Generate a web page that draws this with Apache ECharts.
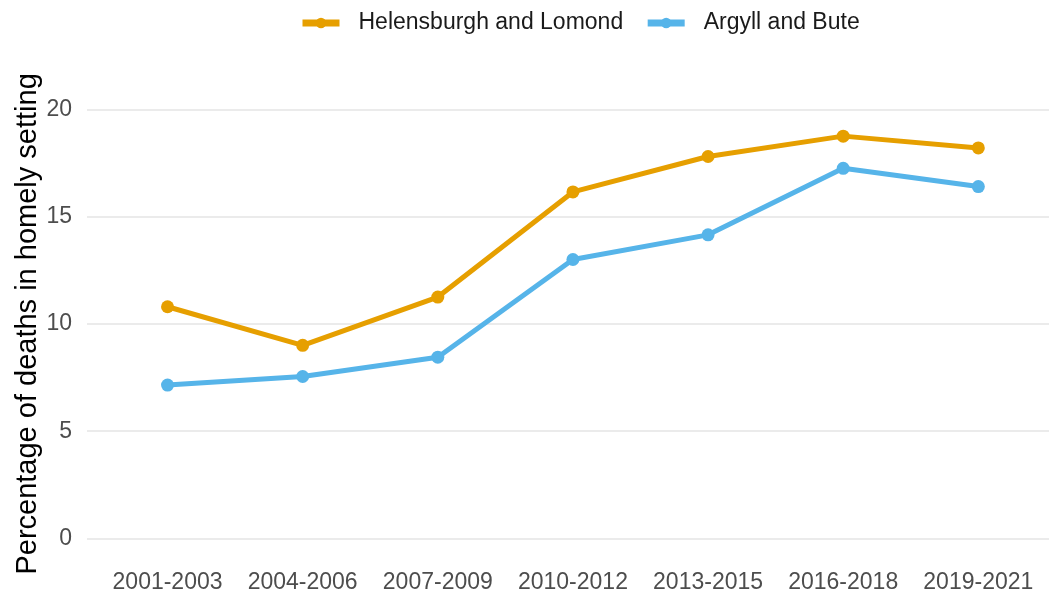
<!DOCTYPE html>
<html>
<head>
<meta charset="utf-8">
<script src="https://cdn.jsdelivr.net/npm/echarts@6/dist/echarts.min.js"></script>
<style>
  html, body { margin: 0; padding: 0; background: #ffffff; }
  #chart { width: 1049px; height: 598px; }
</style>
</head>
<body>
<div id="chart"></div>
<script>
// Three-year periods on the horizontal axis
const periods = ['2001-2003', '2004-2006', '2007-2009', '2010-2012', '2013-2015', '2016-2018', '2019-2021'];
// Percentage of deaths occurring in a homely setting
const helensburgh = [10.8, 9.0, 11.25, 16.15, 17.8, 18.75, 18.2];
const argyll = [7.15, 7.55, 8.45, 13.0, 14.15, 17.25, 16.4];
const yTicks = [0, 5, 10, 15, 20];

const seriesNames = ['Helensburgh and Lomond', 'Argyll and Bute'];
const seriesColors = ['#E69F00', '#56B4E9'];

const font = 'Liberation Sans, Arial, sans-serif';

function toPairs(values) {
  return values.map((v, i) => [i, v]);
}

function makeSeries(idx, values) {
  return {
    name: seriesNames[idx],
    type: 'line',
    data: toPairs(values),
    color: seriesColors[idx],
    lineStyle: { width: 5, color: seriesColors[idx] },
    symbol: 'circle',
    symbolSize: 13,
    itemStyle: { color: seriesColors[idx] },
    clip: false
  };
}

const chart = echarts.init(document.getElementById('chart'), null, { renderer: 'canvas' });

chart.setOption({
  animation: false,
  backgroundColor: '#ffffff',
  textStyle: { fontFamily: font },
  legend: {
    top: 6.5,
    left: 294,
    itemWidth: 37,
    itemHeight: 13,
    itemGap: 21,
    lineStyle: { width: 7 },
    textStyle: { fontSize: 23, color: '#1a1a1a', fontFamily: font, padding: [0, 0, 0, 14] },
    data: seriesNames
  },
  grid: {
    left: 87,
    right: 0,
    top: 109.3,
    bottom: 59.5,
    containLabel: false
  },
  xAxis: {
    type: 'value',
    min: -0.596,
    max: 6.523,
    axisLine: { show: false },
    axisTick: { show: false },
    splitLine: { show: false },
    axisLabel: {
      customValues: periods.map((p, i) => i),
      formatter: (v) => periods[Math.round(v)],
      fontSize: 23,
      color: '#4d4d4d',
      margin: 33,
      fontFamily: font
    }
  },
  yAxis: {
    type: 'value',
    min: 0,
    max: 20,
    interval: 5,
    name: 'Percentage of deaths in homely setting',
    nameLocation: 'middle',
    nameGap: 45,
    nameMoveOverlap: false,
    nameTextStyle: { fontSize: 29, color: '#000000', fontFamily: font },
    axisLine: { show: false },
    axisTick: { show: false },
    axisLabel: {
      customValues: yTicks,
      fontSize: 23,
      color: '#4d4d4d',
      margin: 15,
      fontFamily: font
    },
    splitLine: { show: true, lineStyle: { color: '#ebebeb', width: 2 } }
  },
  series: [
    makeSeries(0, helensburgh),
    makeSeries(1, argyll)
  ]
});
</script>
</body>
</html>
